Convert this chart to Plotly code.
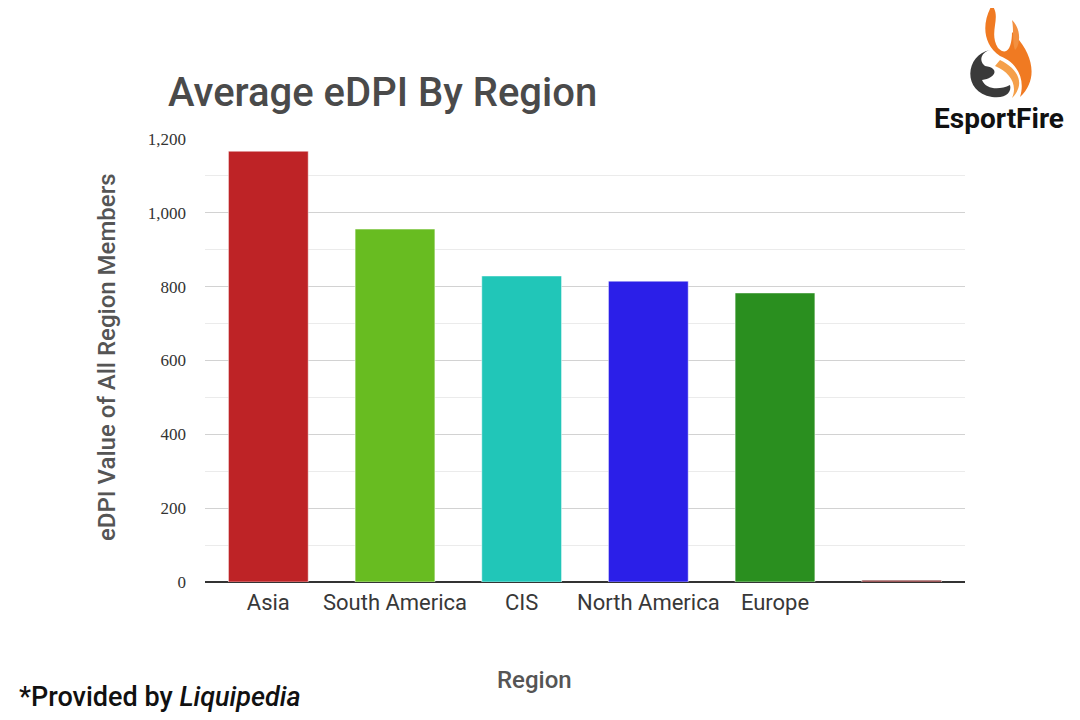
import plotly.graph_objects as go

regions = ["Asia", "South America", "CIS", "North America", "Europe", " "]
edpi = [1167, 956, 829, 815, 783, 5]
colors = ["#BE2326", "#68BC21", "#21C6B8", "#2B1FE8", "#2A8F1F", "#7A1F22"]
y_ticks = [0, 200, 400, 600, 800, 1000, 1200]
y_ticktext = ["0", "200", "400", "600", "800", "1,000", "1,200"]

W, H = 1080, 720
OFF = 8  # page body margin
L, R, T, B = 205, 965, 139, 582


def px(x):
    return (x - L) / (R - L)


def py(y):
    return (B - y) / (B - T)


fig = go.Figure()
fig.add_trace(go.Bar(
    x=regions, y=edpi,
    marker=dict(color=colors, line=dict(color="rgba(255,255,255,0.5)", width=1)),
    showlegend=False,
))

fig.update_layout(
    width=W, height=H,
    margin=dict(l=L - OFF, r=W - (R - OFF), t=T - OFF, b=H - (B - OFF)),
    paper_bgcolor="white", plot_bgcolor="white",
    bargap=0.37,
    font=dict(family="Roboto, Open Sans, sans-serif", color="#333"),
)
fig.update_xaxes(
    showgrid=False, showline=False, ticks="",
    tickfont=dict(family="Roboto, sans-serif", size=22, color="#383838"),
    ticklabelstandoff=5,
)
fig.update_yaxes(
    range=[0, 1200], tickvals=y_ticks, ticktext=y_ticktext,
    showgrid=True, gridcolor="#D2D2D2", gridwidth=1,
    minor=dict(dtick=100, showgrid=True, gridcolor="#EBEBEB", gridwidth=1),
    zeroline=True, zerolinecolor="#333", zerolinewidth=1.5,
    tickfont=dict(family="Liberation Serif, serif", size=17, color="#333"),
    ticklabelstandoff=18, showline=False, ticks="",
)

ann = [
    dict(text="Average eDPI By Region", x=px(166), y=py(92), xanchor="left", yanchor="middle",
         font=dict(family="Roboto", size=40, color="#4A4A4A", weight=500)),
    dict(text="eDPI Value of All Region Members", x=px(107), y=py(357), textangle=-90,
         xanchor="center", yanchor="middle",
         font=dict(family="Roboto", size=24, color="#555", weight=500)),
    dict(text="Region", x=px(534), y=py(680), xanchor="center", yanchor="middle",
         font=dict(family="Roboto", size=24, color="#555", weight=500)),
    dict(text="*Provided by <i>Liquipedia</i>", x=px(17), y=py(697), xanchor="left", yanchor="middle",
         font=dict(family="Roboto", size=27, color="#111", weight=500)),
    dict(text="EsportFire", x=px(999), y=py(118), xanchor="center", yanchor="middle",
         font=dict(family="Roboto", size=28, color="#111", weight=700)),
]
for a in ann:
    a.update(xref="paper", yref="paper", showarrow=False)
fig.update_layout(annotations=ann)


def path(points):
    s = ""
    for cmd, pts in points:
        s += cmd + " " + " ".join(f"{px(x):.5f},{py(y):.5f}" for x, y in pts) + " "
    return s + "Z"


flame_outer = path([
    ("M", [(992, 5)]),
    ("C", [(1002, 18), (988, 32), (998, 48)]),
    ("C", [(1008, 58), (1012, 45), (1012, 32)]),
    ("C", [(1032, 52), (1040, 78), (1020, 97)]),
    ("C", [(1026, 78), (1016, 62), (1000, 56)]),
    ("C", [(982, 44), (982, 22), (992, 5)]),
])
flame_side = path([
    ("M", [(1012, 20)]),
    ("C", [(1022, 30), (1020, 45), (1015, 50)]),
    ("C", [(1012, 42), (1014, 30), (1012, 20)]),
])
flame_inner = path([
    ("M", [(1000, 60)]),
    ("C", [(1020, 70), (1025, 85), (1012, 98)]),
    ("C", [(1018, 85), (1010, 72), (995, 66)]),
])
swirl = path([
    ("M", [(990, 50)]),
    ("C", [(965, 55), (962, 92), (992, 97)]),
    ("C", [(1006, 99), (1012, 92), (1010, 85)]),
    ("C", [(1000, 90), (986, 90), (982, 80)]),
    ("C", [(996, 78), (1000, 68), (985, 66)]),
    ("C", [(978, 60), (982, 52), (990, 50)]),
])
shapes = [
    dict(type="path", path=flame_outer, fillcolor="#F07A22", line=dict(width=0)),
    dict(type="path", path=flame_side, fillcolor="#F29040", line=dict(width=0)),
    dict(type="path", path=flame_inner, fillcolor="#F5A04A", line=dict(width=0)),
    dict(type="path", path=swirl, fillcolor="#3A3A3A", line=dict(width=0)),
]
for s in shapes:
    s.update(xref="paper", yref="paper", layer="above")
fig.update_layout(shapes=shapes)

fig.write_html("out.html")
